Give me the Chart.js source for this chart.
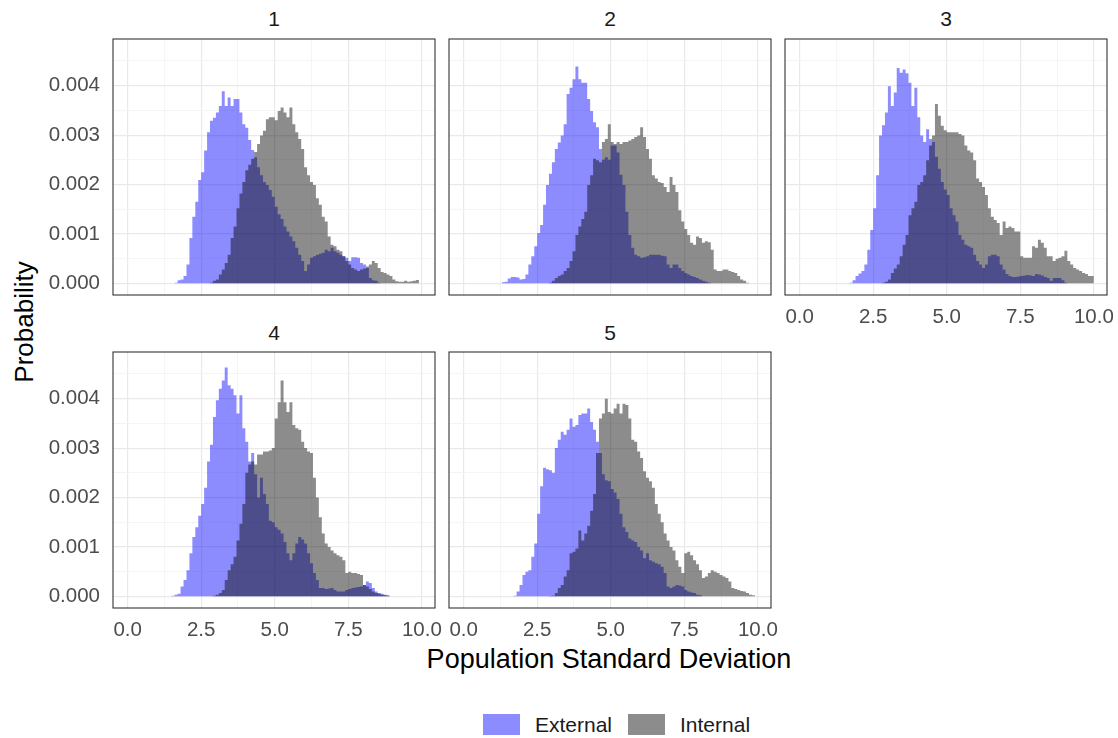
<!DOCTYPE html>
<html>
<head>
<meta charset="utf-8">
<script src="https://cdn.jsdelivr.net/npm/chart.js@4.4.1/dist/chart.umd.min.js"></script>
<style>
  body { margin: 0; background: #fff; width: 1118px; height: 738px; position: relative; overflow: hidden;
         font-family: "Liberation Sans", Arial, sans-serif; }
  canvas { position: absolute; }
  .strip { position: absolute; width: 322px; text-align: center; font-size: 21px; line-height: 24px; color: #1a1a1a; }
  .title { position: absolute; font-size: 26px; line-height: 30px; color: #000; white-space: nowrap; }
  .key { position: absolute; width: 37px; height: 21px; }
  .keytxt { position: absolute; font-size: 21px; line-height: 24px; color: #1a1a1a; }
</style>
</head>
<body>
<div class="strip" style="left:113px; top:7px">1</div>
<div class="strip" style="left:449px; top:7px">2</div>
<div class="strip" style="left:785px; top:7px">3</div>
<div class="strip" style="left:113px; top:321px">4</div>
<div class="strip" style="left:449px; top:321px">5</div>

<div class="title" style="left:24px; top:322px; transform: translate(-50%, -50%) rotate(-90deg);">Probability</div>
<div class="title" style="left:609px; top:644px; font-size:27px; transform: translateX(-50%);">Population Standard Deviation</div>

<div class="key" style="left:483px; top:714px; background: rgba(0,0,255,0.45)"></div>
<div class="keytxt" style="left:535px; top:713px">External</div>
<div class="key" style="left:628px; top:714px; background: rgba(0,0,0,0.45)"></div>
<div class="keytxt" style="left:680px; top:713px">Internal</div>

<script>
// histogram bins: left edges start at 1.0, width 0.1 (90 bins up to 10.0)
const binStart = 1.0;
const binWidth = 0.1;

// probability per bin, in units of 0.0001 (rows of 10 bins: 1.0-1.9, 2.0-2.9, ...)
const ext1 = [
  0,0,0,0,0,0,0.1,0.6,0.8,1.5,
  3.8,9.2,13.5,16.5,20.9,22.5,26.9,30.6,32.9,33.5,
  34.6,35.9,38.9,35.9,37.6,35.9,37.3,37.3,34.6,32.2,
  31.5,29.0,27.0,25.5,23.5,21.9,20.5,19.9,18.9,17.5,
  15.5,14.0,13.0,11.5,10.5,9.5,8.5,7.2,5.8,4.5,
  2.5,3.8,5.2,5.5,5.8,6.0,6.2,6.8,6.5,7.2,
  6.5,6.2,5.8,5.5,5.2,4.5,5.3,5.3,5.2,4.1,
  3.8,3.1,1.1,0.6,0.5,0.1,0,0,0,0,
  0,0,0,0,0,0,0,0,0,0
];
const int1 = [
  0,0,0,0,0,0,0,0,0,0,
  0,0,0,0,0,0,0,0,0.1,0.5,
  0.8,1.8,2.8,4.1,5.8,9.2,11.5,15.2,18.2,20.5,
  22.9,24.0,25.2,26.6,28.2,29.9,30.9,33.2,33.6,33.6,
  33.0,34.9,35.6,34.6,33.6,35.6,32.2,30.6,29.2,27.2,
  23.5,21.9,20.5,19.9,17.2,15.9,13.5,12.5,9.5,7.8,
  7.5,6.8,6.5,5.5,4.5,3.8,3.1,2.8,2.5,2.8,
  3.0,3.4,3.8,4.5,4.1,3.1,2.3,2.1,1.8,1.5,
  0.8,0.4,0.3,0.3,0.5,0.3,0.4,0.5,0.7,0
];
const ext2 = [
  0,0,0,0.2,0.3,1.0,1.3,1.3,1.2,0.8,
  0.9,1.8,3.8,5.5,7.5,10.2,11.8,15.9,19.9,22.2,
  24.5,27.2,28.5,29.9,32.2,38.3,39.6,41.3,43.9,41.3,
  40.6,40.6,37.3,34.9,32.6,31.6,27.2,25.0,25.5,25.0,
  27.9,27.9,26.5,22.0,19.9,14.5,9.8,7.2,5.8,5.5,
  5.2,5.3,5.5,5.8,5.8,5.8,5.8,5.6,5.5,3.8,
  3.1,3.8,3.8,3.1,2.5,2.1,1.8,1.5,1.3,1.1,
  0.8,0.5,0.3,0.1,0,0,0,0,0,0,
  0,0,0,0,0,0,0,0,0,0
];
const int2 = [
  0,0,0,0,0,0,0,0,0,0,
  0,0,0,0,0,0,0,0,0,0.1,
  0.5,1.1,1.5,1.8,2.5,3.1,4.5,6.5,9.8,11.5,
  13.0,14.5,19.9,21.9,25.2,24.9,24.5,28.6,29.2,32.2,
  28.6,28.2,28.6,28.2,28.6,28.6,28.9,29.2,29.6,29.9,
  31.6,29.6,27.2,25.2,21.9,21.2,20.5,20.3,19.5,18.5,
  21.5,19.9,18.5,14.8,12.5,11.0,9.8,8.2,7.8,9.5,
  9.2,8.2,8.5,8.3,6.8,2.8,2.5,2.5,2.8,2.8,
  2.5,2.3,2.1,1.5,0.8,0.5,0.1,0,0,0
];
const ext3 = [
  0,0,0,0,0,0,0,0.1,0.6,1.5,
  2.0,2.5,3.8,6.8,10.8,15.2,21.9,29.9,32.0,34.6,
  39.9,35.9,38.6,43.6,42.6,43.3,42.5,40.6,35.9,39.6,
  33.6,29.9,28.6,31.2,29.2,28.6,25.6,23.2,20.5,19.0,
  17.9,15.2,13.8,12.5,9.8,8.8,7.8,7.5,7.2,5.8,
  4.5,3.8,3.1,3.8,5.5,5.8,5.8,5.5,3.8,2.8,
  1.9,1.5,1.3,1.3,1.4,1.5,1.6,1.7,1.6,1.5,
  1.9,1.8,1.6,1.3,1.1,0.5,1.1,1.1,1.1,0.6,
  0.1,0,0,0,0,0,0,0,0,0
];
const int3 = [
  0,0,0,0,0,0,0,0,0,0,
  0,0,0,0,0,0,0,0,0.1,0.3,
  0.8,2.1,3.0,3.8,5.5,7.8,9.8,13.8,15.2,16.5,
  19.9,20.5,21.9,24.9,27.9,29.9,36.3,33.9,31.9,31.0,
  30.6,30.6,30.6,30.6,30.2,29.9,27.9,26.9,26.5,24.9,
  21.2,20.5,19.5,17.9,15.2,13.5,12.8,12.2,9.8,12.5,
  11.2,11.5,11.2,10.5,10.5,5.5,5.2,5.2,5.2,7.5,
  7.2,8.8,8.2,7.2,5.5,5.5,4.5,5.0,5.2,5.5,
  6.6,4.5,3.8,3.1,2.8,2.5,2.1,1.9,1.5,1.5
];
const ext4 = [
  0,0,0,0,0,0.1,0.3,0.5,2.0,3.3,
  5.3,8.7,12.0,14.0,16.3,18.7,22.0,27.3,30.7,36.3,
  39.7,42.0,43.7,46.3,42.7,42.0,40.7,37.0,40.7,34.0,
  31.3,27.3,29.0,24.7,20.0,24.0,20.7,18.7,15.3,15.0,
  14.0,13.5,12.7,11.0,8.7,7.3,8.7,10.7,12.0,11.5,
  10.7,8.7,6.7,4.7,3.3,1.7,1.7,1.5,1.6,1.7,
  1.3,1.0,1.0,1.0,1.3,1.5,1.7,1.8,1.9,2.0,
  2.3,3.0,2.7,1.7,1.0,0.7,0.5,0.3,0.2,0,
  0,0,0,0,0,0,0,0,0,0
];
const int4 = [
  0,0,0,0,0,0,0,0,0,0,
  0,0,0,0,0,0,0,0,0,0.1,
  0.3,0.7,1.3,3.3,5.3,6.5,8.0,11.3,14.7,18.7,
  25.0,26.7,27.3,26.7,28.7,28.7,29.3,29.3,29.5,30.0,
  36.0,39.3,43.7,39.3,37.3,39.3,34.7,34.0,33.7,31.3,
  30.0,29.3,29.0,24.0,20.0,16.0,12.7,10.7,10.0,9.3,
  8.7,8.3,8.0,7.3,4.7,5.0,4.7,4.7,4.5,4.3,
  2.3,2.0,1.5,1.0,0.7,0.5,0.3,0.2,0.1,0,
  0,0,0,0,0,0,0,0,0,0
];
const ext5 = [
  0,0,0,0,0,0,0,0.1,1.0,2.3,
  4.3,5.0,5.3,8.0,10.7,16.7,22.3,26.0,25.7,25.5,
  25.0,30.0,31.7,33.3,32.7,33.7,36.0,34.3,34.7,36.7,
  37.0,37.0,38.0,35.3,33.7,31.3,29.0,24.7,23.5,23.3,
  21.7,21.0,19.7,16.7,14.0,13.0,11.7,11.3,11.0,10.0,
  9.3,7.7,8.7,7.3,7.0,6.7,6.5,6.0,4.7,2.0,
  1.7,2.0,2.3,2.2,2.0,1.3,1.0,0.8,0.7,0.3,
  0.2,0,0,0,0,0,0,0,0,0,
  0,0,0,0,0,0,0,0,0,0
];
const int5 = [
  0,0,0,0,0,0,0,0,0,0,
  0,0,0,0,0,0,0,0,0,0.05,
  0.1,0.7,1.7,2.3,4.0,5.3,8.7,9.0,9.7,13.3,
  11.3,12.7,14.3,17.3,20.7,29.0,36.0,37.0,40.0,37.3,
  37.0,38.0,39.0,37.0,39.0,38.7,36.0,31.7,31.3,29.3,
  28.0,25.3,24.0,23.3,22.0,18.7,16.7,15.0,12.7,11.3,
  10.0,9.3,7.3,6.0,4.7,8.7,9.0,8.3,7.3,6.5,
  5.3,3.7,4.0,4.7,5.3,5.0,4.7,4.3,4.0,3.7,
  3.0,1.7,1.5,1.3,1.1,1.0,0.7,0.3,0.2,0
];

const seriesNames = ["External", "Internal"];
const seriesColors = ["rgba(0,0,255,0.45)", "rgba(0,0,0,0.45)"];
const facetExt = [ext1, ext2, ext3, ext4, ext5];
const facetInt = [int1, int2, int3, int4, int5];

// panel placement (plot area), 322 x 256
const PW = 322, PH = 256;
const panels = [
  { left: 113, top: 39,  yLabels: true,  xLabels: false },
  { left: 449, top: 39,  yLabels: false, xLabels: false },
  { left: 785, top: 39,  yLabels: false, xLabels: true  },
  { left: 113, top: 352, yLabels: true,  xLabels: true  },
  { left: 449, top: 352, yLabels: false, xLabels: true  }
];

function toSteps(vals) {
  const pts = vals.map((v, i) => ({ x: binStart + i * binWidth, y: v }));
  pts.push({ x: binStart + vals.length * binWidth, y: 0 });
  return pts;
}

function near(v, step) {
  return Math.abs(v / step - Math.round(v / step)) < 1e-6;
}

// fixed axis sizes, no extra padding from tick labels
function fixSize(s, size) {
  if (s.isHorizontal()) s.height = size; else s.width = size;
  s.paddingTop = 0; s.paddingBottom = 0; s.paddingLeft = 0; s.paddingRight = 0;
}

const panelBorder = {
  id: 'panelBorder',
  afterDraw(chart) {
    const { ctx, chartArea: a } = chart;
    ctx.save();
    ctx.strokeStyle = '#333333';
    ctx.lineWidth = 1.1;
    ctx.strokeRect(a.left, a.top, a.right - a.left, a.bottom - a.top);
    ctx.restore();
  }
};

const tickFont = { family: '"Liberation Sans", Arial, sans-serif', size: 20.5 };

panels.forEach((p, k) => {
  const padL = p.yLabels ? 113 : 2;
  const padB = p.xLabels ? 40 : 2;
  const padT = 2, padR = 22;
  const canvas = document.createElement('canvas');
  canvas.width = padL + PW + padR;
  canvas.height = padT + PH + padB;
  canvas.style.left = (p.left - padL) + 'px';
  canvas.style.top = (p.top - padT) + 'px';
  canvas.style.width = canvas.width + 'px';
  canvas.style.height = canvas.height + 'px';
  document.body.appendChild(canvas);

  new Chart(canvas, {
    type: 'line',
    data: {
      datasets: [
        { label: seriesNames[0], data: toSteps(facetExt[k]), order: 2,
          backgroundColor: seriesColors[0], borderColor: 'rgba(0,0,0,0)', borderWidth: 0,
          fill: 'origin', stepped: true, pointRadius: 0 },
        { label: seriesNames[1], data: toSteps(facetInt[k]), order: 1,
          backgroundColor: seriesColors[1], borderColor: 'rgba(0,0,0,0)', borderWidth: 0,
          fill: 'origin', stepped: true, pointRadius: 0 }
      ]
    },
    options: {
      responsive: false,
      animation: false,
      layout: {
        autoPadding: false,
        padding: { left: p.yLabels ? 0 : padL, right: padR, top: padT, bottom: p.xLabels ? 0 : padB }
      },
      plugins: { legend: { display: false }, tooltip: { enabled: false } },
      scales: {
        x: {
          type: 'linear', min: -0.4975, max: 10.4475,
          border: { display: false },
          grid: {
            drawTicks: false,
            color: c => near(c.tick.value, 2.5) ? '#e9e9e9' : '#f2f2f2',
            lineWidth: c => near(c.tick.value, 2.5) ? 1.2 : 0.8
          },
          ticks: {
            display: p.xLabels, stepSize: 1.25, includeBounds: false, autoSkip: false, maxRotation: 0,
            padding: 10, color: '#4d4d4d', font: tickFont,
            callback: v => near(v, 2.5) ? v.toFixed(1) : ''
          },
          afterFit: s => fixSize(s, p.xLabels ? padB : 0)
        },
        y: {
          min: -2.36, max: 49.45,
          border: { display: false },
          grid: {
            drawTicks: false,
            color: c => near(c.tick.value, 10) ? '#e9e9e9' : '#f2f2f2',
            lineWidth: c => near(c.tick.value, 10) ? 1.2 : 0.8
          },
          ticks: {
            display: p.yLabels, stepSize: 5, includeBounds: false, autoSkip: false,
            padding: 13, color: '#4d4d4d', font: tickFont,
            callback: v => near(v, 10) ? (v / 10000).toFixed(3) : ''
          },
          afterFit: s => fixSize(s, p.yLabels ? padL : 0)
        }
      }
    },
    plugins: [panelBorder]
  });
});
</script>
</body>
</html>
